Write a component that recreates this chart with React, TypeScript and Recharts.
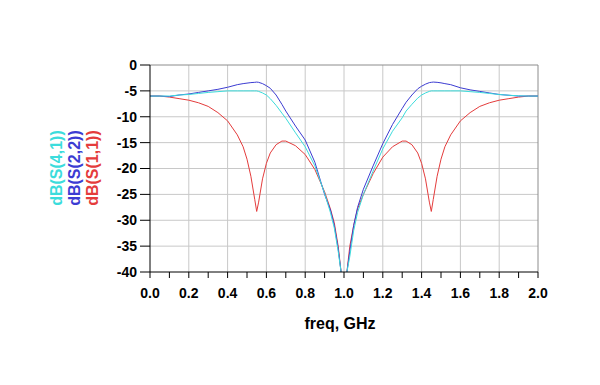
import React from 'react';
import { LineChart, Line, XAxis, YAxis, ReferenceLine } from 'recharts';

const freq = [0, 0.05, 0.1, 0.15, 0.2, 0.25, 0.3, 0.35, 0.4, 0.45, 0.48, 0.5, 0.52, 0.54, 0.55, 0.56, 0.58, 0.6, 0.62, 0.65, 0.68, 0.7, 0.75, 0.8, 0.85, 0.9, 0.93, 0.95, 0.97, 0.985, 1.0, 1.015, 1.03, 1.05, 1.07, 1.1, 1.15, 1.2, 1.25, 1.3, 1.32, 1.35, 1.38, 1.4, 1.42, 1.44, 1.45, 1.46, 1.48, 1.5, 1.52, 1.55, 1.6, 1.65, 1.7, 1.75, 1.8, 1.85, 1.9, 1.95, 2.0];

const s11 = [-6.0, -6.0, -6.2, -6.5, -6.8, -7.3, -8.0, -9.2, -10.8, -13.5, -15.8, -18.2, -21.5, -26, -28.3, -26.5, -22, -19, -17, -15.4, -14.7, -14.7, -15.6, -17.3, -20.2, -24.5, -27.8, -30.5, -35, -40, -58, -40, -35, -31, -27.8, -25, -21, -17.8, -15.8, -14.7, -14.7, -15.4, -17, -19, -22, -26.5, -28.3, -26, -21.5, -18.2, -15.8, -13.5, -10.8, -9.2, -8.0, -7.3, -6.8, -6.5, -6.2, -6.0, -6.0];

const s22 = [-6.0, -6.0, -6.1, -5.8, -5.6, -5.3, -5.0, -4.7, -4.3, -3.8, -3.6, -3.5, -3.4, -3.35, -3.3, -3.35, -3.6, -4.0, -4.5, -5.8, -7.6, -8.9, -11.8, -14.5, -18.8, -25, -28, -31, -35.5, -40, -58, -40, -36, -31, -27.5, -24, -19.5, -15.2, -11.5, -8.4, -7.2, -5.8, -4.6, -4.1, -3.7, -3.4, -3.35, -3.3, -3.35, -3.45, -3.6, -3.8, -4.4, -4.8, -5.1, -5.4, -5.7, -5.85, -6.0, -6.0, -6.0];

const s41 = [-6.0, -6.0, -6.0, -5.8, -5.7, -5.5, -5.3, -5.15, -5.0, -5.0, -5.0, -5.0, -5.0, -5.0, -5.0, -5.1, -5.4, -5.8, -6.5, -7.8, -9.3, -10.3, -13.1, -15.8, -19.5, -24.8, -28.5, -31.5, -36, -40, -58, -40, -37, -32, -28.5, -25, -20.5, -16.2, -12.8, -10.2, -8.9, -7.6, -6.4, -5.8, -5.4, -5.1, -5.0, -5.0, -5.0, -5.0, -5.0, -5.0, -5.0, -5.15, -5.3, -5.5, -5.7, -5.85, -5.95, -6.0, -6.0];

const xTicks = [0, 0.1, 0.2, 0.3, 0.4, 0.5, 0.6, 0.7, 0.8, 0.9, 1.0, 1.1, 1.2, 1.3, 1.4, 1.5, 1.6, 1.7, 1.8, 1.9, 2.0];
const xGrid = [0.2, 0.4, 0.6, 0.8, 1.0, 1.2, 1.4, 1.6, 1.8];
const yTicks = [-40, -35, -30, -25, -20, -15, -10, -5, 0];
const yGrid = [-35, -30, -25, -20, -15, -10, -5];

const seriesNames = ['dB(S(4,1))', 'dB(S(2,2))', 'dB(S(1,1))'];
const seriesColors = ['#3cdcdc', '#3c3cd2', '#e43c3c'];

const data = freq.map((f, i) => ({ f, s11: s11[i], s22: s22[i], s41: s41[i] }));

const FONT = '"Liberation Sans", Arial, sans-serif';
const tickStyle = { fontFamily: FONT, fontSize: 14, fontWeight: 700, fill: '#000' };

export default function App() {
  return (
    <div style={{ position: 'relative', width: 592, height: 369 }}>
      <LineChart width={592} height={369} data={data} margin={{ top: 57, right: 62, bottom: 75, left: 0 }}>
        <XAxis
          dataKey="f"
          type="number"
          domain={[0, 2]}
          ticks={xTicks}
          interval={0}
          tickFormatter={(v: number) => (Math.round(v * 10) % 2 === 0 ? v.toFixed(1) : '')}
          tick={tickStyle}
          tickSize={6}
          tickMargin={10}
          height={30}
          axisLine={{ stroke: '#000', strokeWidth: 1 }}
          tickLine={{ stroke: '#000', strokeWidth: 1 }}
        />
        <YAxis
          type="number"
          domain={[-40, 0]}
          allowDataOverflow
          ticks={yTicks}
          interval={0}
          tick={tickStyle}
          tickSize={10}
          tickMargin={3}
          width={142}
          axisLine={{ stroke: '#000', strokeWidth: 1 }}
          tickLine={{ stroke: '#000', strokeWidth: 1 }}
        />
        {xGrid.map((x) => (
          <ReferenceLine key={'vx' + x} x={x} stroke="#c8c8c8" strokeWidth={1} ifOverflow="hidden" />
        ))}
        {yGrid.map((y) => (
          <ReferenceLine key={'hy' + y} y={y} stroke="#c8c8c8" strokeWidth={1} ifOverflow="hidden" />
        ))}
        <ReferenceLine y={0} stroke="#8c8c8c" strokeWidth={1} />
        <ReferenceLine x={2} stroke="#8c8c8c" strokeWidth={1} />
        <Line dataKey="s11" stroke={seriesColors[2]} strokeWidth={1} dot={false} isAnimationActive={false} type="linear" />
        <Line dataKey="s22" stroke={seriesColors[1]} strokeWidth={1} dot={false} isAnimationActive={false} type="linear" />
        <Line dataKey="s41" stroke={seriesColors[0]} strokeWidth={1} dot={false} isAnimationActive={false} type="linear" />
      </LineChart>
      <svg width={592} height={369} style={{ position: 'absolute', left: 0, top: 0, pointerEvents: 'none' }}>
        {seriesNames.map((name, i) => {
          const cx = 48 + i * 18;
          const cy = 160;
          return (
            <text
              key={name}
              x={cx}
              y={cy}
              transform={`rotate(-90, ${cx}, ${cy})`}
              textAnchor="middle"
              dominantBaseline="central"
              fontFamily={FONT}
              fontSize={16}
              fontWeight={700}
              fill={seriesColors[i]}
            >
              {name}
            </text>
          );
        })}
        <text x={332} y={315} textAnchor="middle" dominantBaseline="central" fontFamily={FONT} fontSize={16} fontWeight={700} fill="#000">
          freq, GHz
        </text>
      </svg>
    </div>
  );
}
